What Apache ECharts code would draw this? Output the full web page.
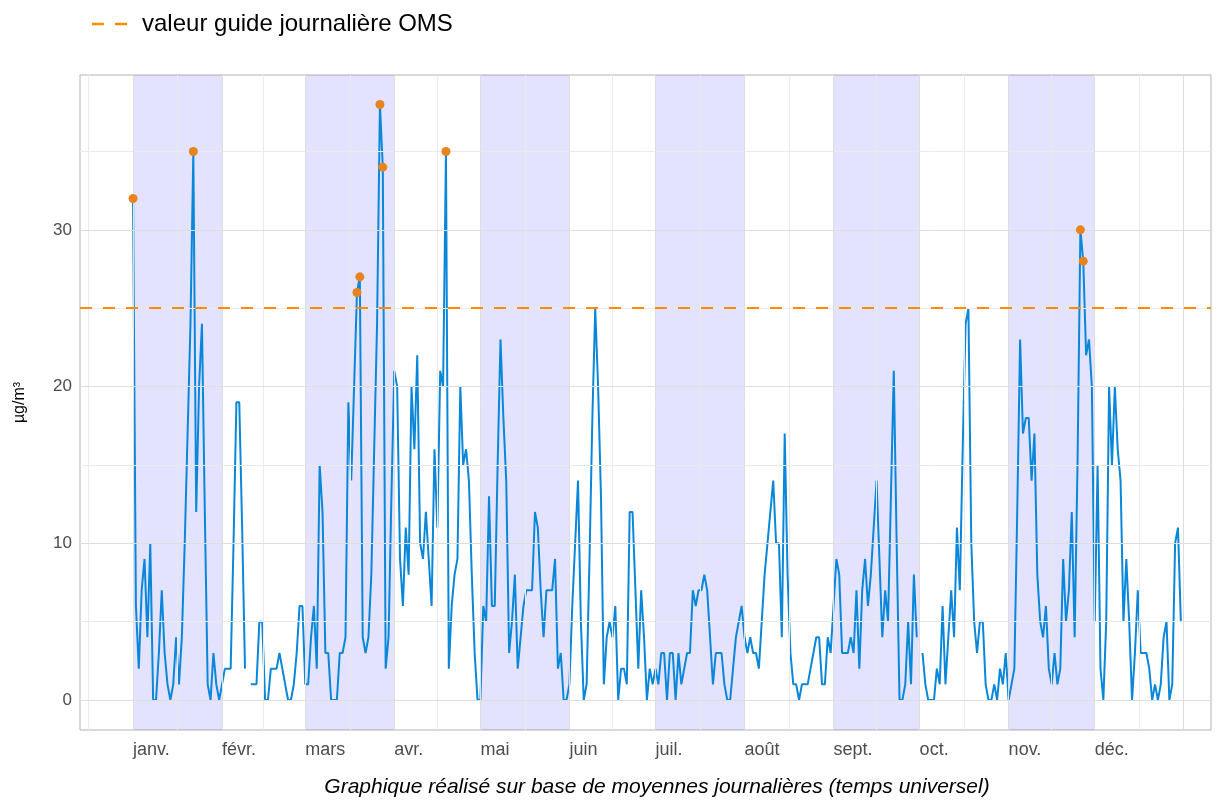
<!DOCTYPE html>
<html>
<head>
<meta charset="utf-8">
<script src="https://cdn.jsdelivr.net/npm/echarts@6/dist/echarts.min.js"></script>
<style>
  html, body { margin: 0; padding: 0; background: #ffffff; }
  #chart { width: 1218px; height: 800px; }
</style>
</head>
<body>
<div id="chart"></div>
<script>
// Daily mean concentrations (µg/m³), one array per month, year 2024 (leap year)
const janvier   = [32,6,2,7,9,4,10,0,0,3,7,3,1,0,1,4,1,4,10,17,24,35,12,20,24,12,1,0,3,1,0];
const fevrier   = [1,2,2,2,10,19,19,11,2,null,1,1,1,5,5,0,0,2,2,2,3,2,1,0,0,1,3,6,6];
const mars      = [1,1,4,6,2,15,12,3,3,0,0,0,3,3,4,19,14,20,26,27,4,3,4,8,16,24,38,34,2,4,13];
const avril     = [21,20,9,6,11,8,20,16,22,10,9,12,9,6,16,11,21,20,35,2,6,8,9,20,15,16,14,8,3,0];
const mai       = [0,6,5,13,6,6,15,23,18,14,3,5,8,2,4,6,7,7,7,12,11,7,4,7,7,7,9,2,3,0,0];
const juin      = [1,6,10,14,5,0,1,9,18,25,20,13,1,4,5,4,6,0,2,2,1,12,12,7,2,7,4,0,2,1];
const juillet   = [2,1,3,3,0,3,3,0,3,1,2,3,3,7,6,7,7,8,7,4,1,3,3,3,1,0,0,2,4,5,6];
const aout      = [4,3,4,3,3,2,5,8,10,12,14,10,10,4,17,8,3,1,1,0,1,1,1,2,3,4,4,1,1,4,3];
const septembre = [6,9,8,3,3,3,4,3,7,2,7,9,6,8,11,14,9,4,7,5,13,21,10,0,0,1,5,1,8,4];
const octobre   = [null,3,1,0,0,0,2,1,6,1,4,7,4,11,7,16,24,25,10,5,3,5,5,1,0,0,1,0,2,1,3];
const novembre  = [0,1,2,12,23,17,18,18,14,17,8,5,4,6,2,1,3,1,2,9,5,7,12,4,15,30,28,22,23,20];
const decembre  = [5,15,2,0,5,20,15,20,16,14,5,9,5,0,3,7,3,3,3,2,0,1,0,1,4,5,0,1,10,11,5];

// Axis labels and month boundaries (day index from 1 January)
const mois = ['janv.', 'févr.', 'mars', 'avr.', 'mai', 'juin', 'juil.', 'août', 'sept.', 'oct.', 'nov.', 'déc.'];
const debutsMois = [0, 31, 60, 91, 121, 152, 182, 213, 244, 274, 305, 335];
const finAnnee = 366;
const graduationsY = [0, 10, 20, 30];
const graduationsYMineures = [5, 15, 25, 35];

// WHO daily guideline
const valeurGuideOMS = 25;
const libelleOMS = 'valeur guide journalière OMS';
const titreX = 'Graphique réalisé sur base de moyennes journalières (temps universel)';
const titreY = 'µg/m³';

const police = '"Liberation Sans", Arial, Helvetica, sans-serif';

const jours = [].concat(janvier, fevrier, mars, avril, mai, juin, juillet, aout, septembre, octobre, novembre, decembre);
const serie = jours.map((v, i) => [i, v]);
const depassements = serie.filter(p => p[1] !== null && p[1] > valeurGuideOMS);

// Shaded bands for odd months (janv., mars, mai, juil., sept., nov.)
const bornes = debutsMois.concat([finAnnee]);
const bandes = [];
for (let m = 0; m < 12; m += 2) {
  bandes.push([{ xAxis: bornes[m] }, { xAxis: bornes[m + 1] }]);
}

// Vertical grid: month starts (major) and mid-month (minor)
const verticalesMajeures = bornes.slice();
const verticalesMineures = [-15.5];
for (let i = 0; i < bornes.length - 1; i++) verticalesMineures.push((bornes[i] + bornes[i + 1]) / 2);

const couleurMajeure = '#DEDEDE';
const couleurMineure = '#EAEAEA';

const lignesGrille = []
  .concat(verticalesMineures.map(v => ({ xAxis: v, lineStyle: { color: couleurMineure, width: 1, type: 'solid' } })))
  .concat(graduationsYMineures.map(v => ({ yAxis: v, lineStyle: { color: couleurMineure, width: 1, type: 'solid' } })))
  .concat(verticalesMajeures.map(v => ({ xAxis: v, lineStyle: { color: couleurMajeure, width: 1, type: 'solid' } })))
  .concat(graduationsY.map(v => ({ yAxis: v, lineStyle: { color: couleurMajeure, width: 1, type: 'solid' } })));

const chart = echarts.init(document.getElementById('chart'), null, { renderer: 'canvas' });

chart.setOption({
  animation: false,
  backgroundColor: '#ffffff',
  textStyle: { fontFamily: police },
  grid: {
    left: 80, right: 7, top: 75, bottom: 70,
    show: true, borderColor: '#B3B3B3', borderWidth: 1, backgroundColor: 'transparent'
  },
  xAxis: {
    type: 'value',
    min: -18.48, max: 375.5,
    axisLine: { show: false },
    splitLine: { show: false },
    axisTick: { show: true, customValues: debutsMois, length: 4, lineStyle: { color: '#B3B3B3' } },
    axisLabel: {
      customValues: debutsMois,
      formatter: v => mois[debutsMois.indexOf(v)] || '',
      color: '#4D4D4D', fontSize: 18, fontFamily: police, margin: 11, align: 'left'
    }
  },
  yAxis: {
    type: 'value',
    min: -1.915, max: 39.88,
    name: titreY, nameLocation: 'middle', nameGap: 52, nameRotate: 90,
    nameTextStyle: { color: '#000000', fontSize: 16, fontFamily: police },
    axisLine: { show: false },
    splitLine: { show: false },
    axisTick: { show: true, customValues: graduationsY, length: 4, lineStyle: { color: '#B3B3B3' } },
    axisLabel: {
      customValues: graduationsY,
      color: '#4D4D4D', fontSize: 17, fontFamily: police, margin: 8
    }
  },
  graphic: [
    { type: 'line', shape: { x1: 92, y1: 24, x2: 128, y2: 24 },
      style: { stroke: '#FF8C00', lineWidth: 2.5, lineDash: [12, 11] } },
    { type: 'text', x: 142, y: 24,
      style: { text: libelleOMS, fill: '#000000', font: '24px ' + police, textVerticalAlign: 'middle' } },
    { type: 'text', x: 657, y: 787,
      style: { text: titreX, fill: '#000000', font: 'italic 21px ' + police, textAlign: 'center', textVerticalAlign: 'middle' } }
  ],
  series: [
    {
      name: 'grille', type: 'line', data: [], z: 1, silent: true,
      markLine: { silent: true, symbol: ['none', 'none'], label: { show: false }, animation: false, data: lignesGrille }
    },
    {
      name: 'bandes', type: 'line', data: [], z: 2, silent: true,
      markArea: { silent: true, itemStyle: { color: 'rgba(0, 0, 255, 0.11)' }, label: { show: false }, data: bandes }
    },
    {
      name: 'moyenne journalière', type: 'line', data: serie, z: 4,
      showSymbol: false, connectNulls: false,
      lineStyle: { color: '#0B87D9', width: 2 },
      itemStyle: { color: '#0B87D9' }
    },
    {
      name: libelleOMS, type: 'line', data: [], z: 5, silent: true,
      markLine: {
        silent: true, symbol: ['none', 'none'], label: { show: false }, animation: false,
        lineStyle: { color: '#FF8C00', width: 2.2, type: [12, 11] },
        data: [{ yAxis: valeurGuideOMS }]
      }
    },
    {
      name: 'dépassements', type: 'scatter', data: depassements, z: 6,
      symbolSize: 9, itemStyle: { color: '#E8841F', opacity: 1 }
    }
  ]
});
</script>
</body>
</html>
